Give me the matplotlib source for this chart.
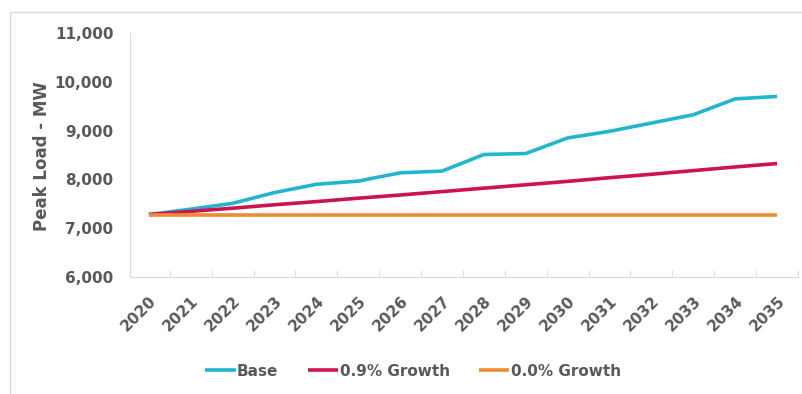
import numpy as np
import matplotlib
matplotlib.use("Agg")
import matplotlib.pyplot as plt
from matplotlib.ticker import FuncFormatter, FixedLocator
from matplotlib.patches import Rectangle

# values
years = [str(y) for y in range(2020, 2036)]
base = [7280, 7390, 7510, 7730, 7900, 7965, 8135, 8170,
        8510, 8530, 8850, 8985, 9155, 9325, 9650, 9700]
growth_09 = [7280, 7345, 7410, 7480, 7545, 7615, 7680, 7750,
             7820, 7890, 7960, 8035, 8105, 8180, 8255, 8325]
growth_00 = [7280] * 16

grey = "#595959"
plt.rc('font', family='DejaVu Sans', weight='bold', size=10.5)

fig = plt.figure(figsize=(8.02, 3.94), dpi=100)
ax = fig.add_axes([130/802, 1-277/394, 668/802, 244/394])

x = np.arange(len(years))
l1, = ax.plot(x, base, color="#22B6CE", lw=2.6, solid_capstyle='butt')
l2, = ax.plot(x, growth_09, color="#CC1452", lw=2.6, solid_capstyle='butt')
l3, = ax.plot(x, growth_00, color="#EE8C32", lw=2.6, solid_capstyle='butt')

ax.set_xlim(-0.45, len(years) - 0.5)
ax.set_ylim(6000, 11000)
ax.set_yticks(range(6000, 11001, 1000))
ax.yaxis.set_major_formatter(FuncFormatter(lambda v, p: f"{int(v):,}"))
ax.set_xticks(x)
ax.set_xticklabels(years, rotation=45, ha='right', rotation_mode='anchor')
ax.xaxis.set_minor_locator(FixedLocator(np.arange(-0.5, len(years), 1.0)))

ax.tick_params(axis='y', length=0, pad=12, colors=grey, labelsize=11)
ax.tick_params(axis='x', which='major', length=0, pad=12, colors=grey, labelsize=11)
ax.tick_params(axis='x', which='minor', length=5, direction='in', color='#d9d9d9')

for s in ['top', 'right']:
    ax.spines[s].set_visible(False)
ax.spines['left'].set_color('#d9d9d9')
ax.spines['bottom'].set_color('#d9d9d9')

fig.text(42/802, 1-156/394, "Peak Load - MW", rotation=90, ha='center', va='center',
         color=grey, fontsize=12, fontweight='bold')

fig.legend([l1, l2, l3], ["Base", "0.9% Growth", "0.0% Growth"],
           loc='center', bbox_to_anchor=(413/802, 1-371/394), ncol=3, frameon=False,
           handlelength=2.0, handletextpad=0.1, columnspacing=1.9,
           labelcolor=grey, prop={'weight': 'bold', 'size': 11})

# outer chart border (left and top edges visible)
fig.patches.append(Rectangle((10/802, -0.1), 1.1, 1 - 12/394 + 0.1, transform=fig.transFigure,
                             fill=False, edgecolor='#d9d9d9', lw=1))

fig.savefig("out.png", dpi=100)
